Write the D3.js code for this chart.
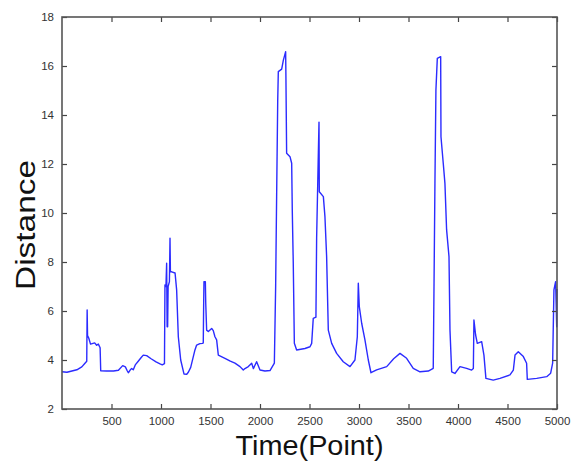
<!DOCTYPE html>
<html>
<head>
<meta charset="utf-8">
<title>Distance over time</title>
<script src="https://cdn.jsdelivr.net/npm/d3@7"></script>
<style>
  body { margin: 0; background: #fff; }
</style>
</head>
<body>
<div id="chart"></div>
<script>
// values
const timePoints = [0, 50, 100, 150, 200, 232, 250, 254, 258, 270, 288, 330, 350, 367, 385, 391, 450, 520, 570, 613,
  640, 660, 670, 690, 704, 720, 740, 770, 800, 821, 855, 900, 950, 990, 1013, 1035, 1040, 1050, 1057, 1062,
  1067, 1072, 1085, 1091, 1095, 1108, 1142, 1158, 1175, 1199, 1232, 1260, 1276, 1300, 1343, 1360, 1393, 1420, 1427, 1431,
  1434, 1448, 1452, 1461, 1478, 1512, 1528, 1545, 1562, 1579, 1646, 1700, 1747, 1798, 1831, 1848, 1882, 1916, 1933, 1966,
  2000, 2050, 2101, 2145, 2158, 2168, 2179, 2185, 2219, 2236, 2259, 2262, 2269, 2303, 2320, 2326, 2336, 2347, 2370, 2454,
  2505, 2522, 2538, 2565, 2572, 2590, 2596, 2599, 2640, 2656, 2673, 2690, 2724, 2774, 2841, 2909, 2959, 2983, 2993, 3003,
  3027, 3060, 3094, 3121, 3178, 3280, 3350, 3414, 3481, 3548, 3616, 3700, 3750, 3757, 3767, 3777, 3791, 3825, 3828, 3851,
  3868, 3885, 3909, 3919, 3936, 3969, 4020, 4087, 4138, 4155, 4161, 4178, 4195, 4239, 4262, 4282, 4356, 4424, 4525, 4559,
  4576, 4609, 4660, 4693, 4700, 4795, 4896, 4936, 4956, 4969, 4986, 4997, 5000];
const distance = [3.52, 3.5, 3.55, 3.6, 3.72, 3.87, 3.95, 6.04, 5.0, 4.9, 4.65, 4.7, 4.6, 4.65, 4.5, 3.56, 3.55, 3.55, 3.58, 3.77,
  3.72, 3.55, 3.48, 3.6, 3.65, 3.6, 3.8, 3.95, 4.1, 4.2, 4.18, 4.05, 3.92, 3.84, 3.8, 3.85, 7.06, 7.0, 7.95, 5.36,
  5.36, 7.0, 7.2, 8.97, 7.6, 7.6, 7.55, 6.86, 4.95, 4.0, 3.43, 3.42, 3.5, 3.7, 4.41, 4.61, 4.67, 4.68, 4.7, 6.31,
  7.2, 7.2, 6.31, 5.22, 5.16, 5.29, 5.2, 4.95, 4.82, 4.2, 4.07, 3.95, 3.87, 3.73, 3.59, 3.65, 3.73, 3.87, 3.65, 3.93,
  3.59, 3.55, 3.57, 3.87, 6.99, 10.67, 14.6, 15.77, 15.87, 16.24, 16.58, 15.5, 12.44, 12.3, 12.03, 10.12, 7.95, 4.68, 4.41, 4.47,
  4.54, 4.68, 5.7, 5.75, 8.97, 12.57, 13.71, 10.87, 10.67, 9.85, 8.22, 5.22, 4.68, 4.27, 3.93, 3.73, 4.0, 4.95, 7.13, 6.18,
  5.5, 4.82, 4.0, 3.48, 3.6, 3.73, 4.05, 4.27, 4.07, 3.66, 3.52, 3.55, 3.66, 6.72, 11.2, 15.02, 16.31, 16.38, 13.11, 12.03,
  11.21, 9.31, 8.22, 5.22, 3.52, 3.45, 3.73, 3.66, 3.59, 3.65, 5.63, 5.02, 4.68, 4.75, 4.2, 3.25, 3.18, 3.25, 3.39, 3.59,
  4.2, 4.34, 4.14, 3.87, 3.21, 3.25, 3.32, 3.46, 3.87, 6.86, 7.2, 5.36, 6.9];
const xTicks = [500, 1000, 1500, 2000, 2500, 3000, 3500, 4000, 4500, 5000];
const yTicks = [2, 4, 6, 8, 10, 12, 14, 16, 18];

const W = 571, H = 461;
const margin = {top: 17, right: 14, bottom: 52, left: 62};
const w = W - margin.left - margin.right;
const h = H - margin.top - margin.bottom;

const svg = d3.select("#chart").append("svg")
  .attr("width", W).attr("height", H);
const g = svg.append("g").attr("transform", `translate(${margin.left},${margin.top})`);

const x = d3.scaleLinear().domain([0, 5000]).range([0, w]);
const y = d3.scaleLinear().domain([2, 18]).range([h, 0]);

const pts = timePoints.map((t, i) => [t, distance[i]]);
const line = d3.line().x(d => x(d[0])).y(d => y(d[1]));

g.append("path")
  .datum(pts)
  .attr("d", line)
  .attr("fill", "none")
  .attr("stroke", "#2b2bff")
  .attr("stroke-width", 1.4)
  .attr("stroke-linejoin", "round");

// inward ticks on all four sides, matlab style
const tickFont = "'Liberation Sans', Arial, sans-serif";
const styleAxis = sel => {
  sel.select(".domain").remove();
  sel.selectAll("line").attr("stroke", "#444").attr("stroke-width", 1.2);
  sel.selectAll("text").attr("fill", "#333").style("font-family", tickFont).style("font-size", "11.5px");
};
const fmt = d3.format("d");

g.append("g").attr("transform", `translate(0,${h})`)
  .call(d3.axisBottom(x).tickValues(xTicks).tickFormat(fmt).tickSize(-5).tickPadding(8))
  .call(styleAxis);
g.append("g")
  .call(d3.axisTop(x).tickValues(xTicks).tickSize(-5).tickFormat(""))
  .call(styleAxis);
g.append("g")
  .call(d3.axisLeft(y).tickValues(yTicks).tickFormat(fmt).tickSize(-5).tickPadding(8))
  .call(styleAxis);
g.append("g").attr("transform", `translate(${w},0)`)
  .call(d3.axisRight(y).tickValues(yTicks).tickSize(-5).tickFormat(""))
  .call(styleAxis);

g.append("rect")
  .attr("width", w).attr("height", h)
  .attr("fill", "none")
  .attr("stroke", "#555")
  .attr("stroke-width", 1.6);

svg.append("text")
  .attr("x", margin.left + w / 2)
  .attr("y", 455)
  .attr("text-anchor", "middle")
  .attr("textLength", 148)
  .attr("lengthAdjust", "spacingAndGlyphs")
  .style("font-family", tickFont)
  .style("font-size", "27px")
  .attr("fill", "#111")
  .text("Time(Point)");

svg.append("text")
  .attr("transform", `translate(35,${margin.top + h / 2 + 12}) rotate(-90)`)
  .attr("text-anchor", "middle")
  .attr("textLength", 130)
  .attr("lengthAdjust", "spacingAndGlyphs")
  .style("font-family", tickFont)
  .style("font-size", "27px")
  .attr("fill", "#111")
  .text("Distance");
</script>
</body>
</html>
